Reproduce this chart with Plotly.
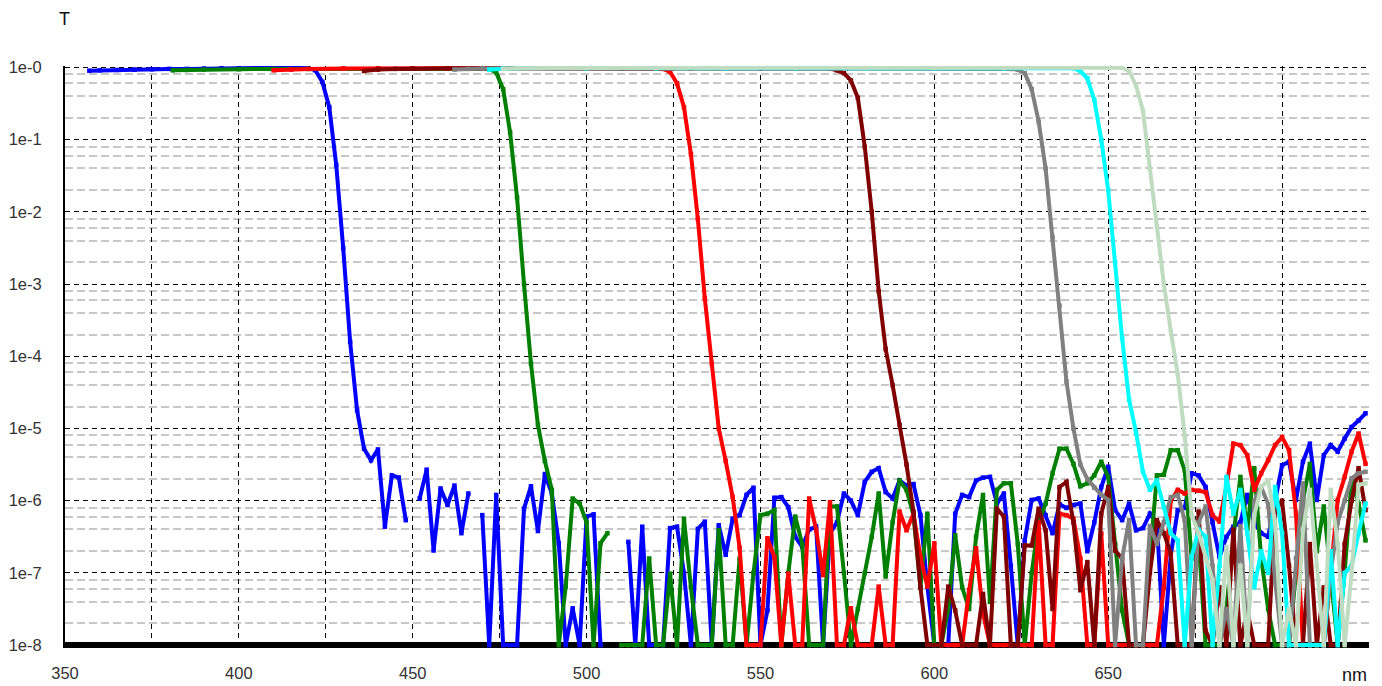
import plotly.graph_objects as go

# ---------------- data (wavelength in nm, transmission as log10(T)) ----------------
# flat (passband) parts, read every few nm
blue_flat_nm = [357, 360, 365, 370, 375, 380, 385, 390, 395, 400, 405, 410, 415, 420]
blue_flat_log = [-0.045, -0.04, -0.035, -0.03, -0.025, -0.02, -0.02, -0.015, -0.01, -0.005, -0.005, -0.005, -0.005, -0.01]
# edge + blocking part, every 2 nm from the start value to 724 (None = no value)
blue_edge_start = 422
blue_edge_log = [
    -0.04, -0.2, -0.55, -1.35, -2.5, -3.8, -4.75, -5.28, -5.44, -5.29,
    -6.36, -5.65, -5.68, -6.27, None, -5.97, -5.57, -6.69, -5.83, -6.06,
    -5.79, -6.45, -5.90, None, -6.20, -8, -5.92, -8, -8, -8,
    -6.11, -5.80, -6.42, -5.63, -5.90, -6.59, -8, -7.49, -8, -6.22,
    -6.19, -8, None, None, None, -6.57, -8, -6.36, -8, -8,
    -8, -6.38, -6.36, -7.0, -8, -6.39, -6.29, -8, -6.34, -6.75,
    -6.25, -6.2, -5.92, -5.82, -8, -7.52, -5.96, -5.95, -6.09, -6.5,
    -6.64, -6.4, -6.36, -8, -6.45, -6.3, -5.9, -6.0, -6.2, -5.74,
    -5.6, -5.55, -5.88, -5.97, -5.72, -5.79, -5.77, -6.2, -7.19, -8,
    -8, -8, -6.18, -5.92, -5.95, -5.72, -5.68, -5.67, -6.04, -5.9,
    -6.9, -8, -6.55, -5.99, -5.97, -6.2, -6.45, -6.05, -6.1, -6.06,
    -6.04, -6.7, -6.3, -5.81, -5.53, -6.13, -6.27, -6.04, -6.41, -6.38,
    -6.18, -6.3, -8, -6.75, -6.13, -6.1, -5.62, -5.65, -5.81, -6.3,
    -6.78, -6.5, -6.36, -6.3, -5.92, -6.3, -6.45, -6.5, -6.0, -5.51,
    -5.46, -5.99, -5.46, -5.21, -5.99, -5.37, -5.23, -5.32, -5.14, -4.98,
    -4.89, -4.79,
]

green_flat_nm = [381, 385, 390, 400, 410, 420, 430, 440, 450, 460, 470, 472]
green_flat_log = [-0.04, -0.035, -0.03, -0.025, -0.02, -0.02, -0.015, -0.015, -0.01, -0.01, -0.01, -0.02]
green_edge_start = 474
green_edge_log = [
    -0.07, -0.3, -0.9, -1.8, -3.0, -4.1, -4.95, -5.45, -5.85, -8,
    -7.19, -5.97, -6.04, -6.3, -8, -6.59, -6.45, None, -8, -8,
    -8, -8, -6.8, -8, -8, -7.01, -8, -6.25, -7.2, -8,
    -8, -8, -6.41, -8, -8, -6.8, -8, -7.0, -6.2, -6.18,
    -6.13, -8, -7.0, -6.22, -6.6, -8, -8, -8, -6.08, -6.08,
    -7.0, -8, -7.5, -7.0, -6.5, -5.9, -7.05, -6.3, -5.72, -5.85,
    -6.2, -7.2, -6.18, -8, -8, -7.5, -6.48, -7.2, -7.5, -6.5,
    -5.92, -7.4, -5.85, -5.76, -5.76, -6.6, -8, -7.0, -6.3, -6.04,
    -5.62, -5.28, -5.28, -5.49, -5.8, -5.76, -5.65, -5.46, -5.67, -6.6,
    -7.52, -8, -8, -8, -6.8, -5.65, -5.64, -5.3, -5.3, -5.58,
    -6.8, -6.55, -8, -8, -8, -7.5, -6.5, -5.67, -6.4, -5.55,
    -6.8, -7.5, -8, -8, -8, -7.0, -6.0, -5.49, -6.7, -6.08,
    -7.0, -8, -7.0, -5.72, -6.04, -6.55,
]

red_flat_nm = [410, 415, 420, 430, 440, 450, 460, 470, 480, 490, 500, 510, 520, 522]
red_flat_log = [-0.04, -0.03, -0.02, -0.015, -0.01, -0.01, -0.01, -0.01, -0.01, -0.01, -0.01, -0.01, -0.01, -0.02]
red_edge_start = 524
red_edge_log = [
    -0.06, -0.22, -0.55, -1.2, -2.1, -3.2, -4.1, -5.0, -5.45, -5.95,
    -6.65, -8, -8, -8, -6.52, -6.78, -8, -7.01, -8, -8,
    -5.97, -6.4, -7.03, -6.02, -8, -8, -7.49, -8, -8, -8,
    -7.19, -8, -8, -6.15, -6.41, -6.18, -6.78, -7.19, -6.59, -8,
    -8, -8, -8, -7.24, -6.66, -7.56, -8, -8, -8, -8,
    -8, -8, -8, -6.3, -8, -8, -6.18, -6.2, -6.25, -6.8,
    -8, -8, -6.45, -8, -8, -8, -8, -8, -8, -8,
    -8, -7.2, -6.0, -5.85, -5.9, -5.85, -5.86, -5.88, -6.2, -6.29,
    -5.8, -5.21, -5.23, -5.37, -5.85, -5.62, -5.44, -5.23, -5.12, -5.3,
    -6.18, -8, -8, -8, -8, -7.0, -5.99, -5.67, -5.32, -5.07,
    -5.49,
]

maroon_flat_nm = [436, 440, 445, 450, 460, 470, 480, 490, 500, 510, 520, 530, 540, 550, 560, 570]
maroon_flat_log = [-0.05, -0.03, -0.02, -0.015, -0.01, -0.01, -0.01, -0.01, -0.01, -0.01, -0.01, -0.01, -0.01, -0.01, -0.01, -0.015]
maroon_edge_start = 572
maroon_edge_log = [
    -0.04, -0.08, -0.18, -0.42, -1.1, -2.0, -3.1, -3.9, -4.4, -4.95,
    -5.5, -6.15, -7.2, -8, -8, -8, -7.19, -7.52, -8, -8,
    -8, -7.29, -8, -6.11, -6.22, -8, -8, -6.62, -6.62, -6.11,
    -6.41, -7.5, -5.81, -5.74, -6.3, -7.24, -6.85, -8, -6.18, -5.81,
    -6.69, -6.8, -8, -8, -8, -7.0, -6.27, -6.45, -6.73, -8,
    -8, -8, -6.15, -7.8, -8, -7.2, -8, -6.4, -8, -7.52,
    -8, -8, -8, -6.13, -6.0, -6.9, -8, -8, -6.6, -8,
    -7.2, -8, -8, -6.6, -6.0, -5.55, -6.13,
]

gray_flat_nm = [462, 466, 470, 480, 500, 520, 540, 560, 580, 600, 620, 622]
gray_flat_log = [-0.03, -0.02, -0.015, -0.01, -0.01, -0.01, -0.01, -0.01, -0.01, -0.01, -0.01, -0.02]
gray_edge_start = 624
gray_edge_log = [
    -0.03, -0.08, -0.3, -0.75, -1.4, -2.35, -3.3, -4.35, -5.0, -5.5,
    -5.7, -5.82, -5.92, -5.99, -8, -6.8, -6.27, -8, -8, -6.35,
    -6.6, -6.3, -5.95, -5.92, -6.27, -8, -6.3, -6.08, -6.9, -8,
    -7.5, -8, -6.35, -8, -6.0, -5.81, -6.05, -7.1, -8, -8,
    -6.8, -5.76, -8, -8, -8, -7.0, -6.3, -6.0, -5.69, -5.62, -5.6,
]

cyan_flat_nm = [472, 476, 480, 500, 520, 540, 560, 580, 600, 620, 640]
cyan_flat_log = [-0.03, -0.015, -0.01, -0.01, -0.01, -0.01, -0.01, -0.01, -0.01, -0.01, -0.01]
cyan_edge_start = 642
cyan_edge_log = [
    -0.05, -0.15, -0.45, -1.0, -1.7, -2.7, -3.75, -4.6, -5.05, -5.6,
    -5.85, -5.72, -6.09, -6.45, -6.55, -8, -6.78, -6.4, -6.5, -8,
    -6.9, -5.67, -6.18, -5.85, -6.45, -7.2, -6.7, -7.0, -5.81, -6.45,
    -8, -8, -8, -8, -8, -8, -6.7, -8, -7.0, -6.9,
    -6.45, -6.04,
]

sage_flat_nm = [476, 480, 490, 500, 520, 540, 560, 580, 600, 620, 640, 650, 654]
sage_flat_log = [-0.02, -0.01, -0.008, -0.005, -0.005, -0.005, -0.005, -0.005, -0.005, -0.005, -0.005, -0.005, -0.005]
sage_edge_start = 656
sage_edge_log = [
    -0.05, -0.25, -0.6, -1.4, -2.2, -3.0, -3.65, -4.25, -5.1, -6.2,
    -6.45, -6.8, -7.1, -8, -6.64, -8, -6.9, -8, -6.2, -5.81,
    -5.72, -6.3, -8, -7.5, -8, -6.4, -5.85, -6.9, -8, -5.85,
    -6.6, -8, -7.0, -5.78, -5.76,
]

x_tick_vals = [350, 375, 400, 425, 450, 475, 500, 525, 550, 575, 600, 625, 650, 675, 700, 725]
x_tick_text = ["350", "", "400", "", "450", "", "500", "", "550", "", "600", "", "650", "", "", ""]
y_tick_exps = [0, -1, -2, -3, -4, -5, -6, -7, -8]
y_tick_text = ["1e-0", "1e-1", "1e-2", "1e-3", "1e-4", "1e-5", "1e-6", "1e-7", "1e-8"]
minor_mults = [2, 4, 6, 8]

series = [
    ("blue", "#0000ff", blue_flat_nm, blue_flat_log, blue_edge_start, blue_edge_log),
    ("green", "#008000", green_flat_nm, green_flat_log, green_edge_start, green_edge_log),
    ("red", "#ff0000", red_flat_nm, red_flat_log, red_edge_start, red_edge_log),
    ("maroon", "#800000", maroon_flat_nm, maroon_flat_log, maroon_edge_start, maroon_edge_log),
    ("gray", "#808080", gray_flat_nm, gray_flat_log, gray_edge_start, gray_edge_log),
    ("cyan", "#00ffff", cyan_flat_nm, cyan_flat_log, cyan_edge_start, cyan_edge_log),
    ("sage", "#c0dcc0", sage_flat_nm, sage_flat_log, sage_edge_start, sage_edge_log),
]

fig = go.Figure()

# black blocking floor at 1e-8
fig.add_shape(type="line", xref="x", yref="y", x0=350, x1=725, y0=1e-8, y1=1e-8,
              line=dict(color="black", width=6), layer="below")

for name, color, fnm, flog, estart, elog in series:
    enm = [estart + 2 * i for i in range(len(elog))]
    xs = fnm + enm
    ys = [None if v is None else 10 ** v for v in (flog + elog)]
    fig.add_trace(go.Scatter(
        x=xs, y=ys, name=name, mode="lines+markers",
        line=dict(color=color, width=4),
        marker=dict(color=color, size=4.5, symbol="square"),
        connectgaps=False, showlegend=False,
    ))

minor_vals = [m * 10 ** e for e in range(-8, 0) for m in minor_mults]

fig.update_layout(
    width=1382, height=686,
    margin=dict(l=65, r=13, t=65.5, b=38.1),
    paper_bgcolor="white", plot_bgcolor="white",
    font=dict(family="Liberation Sans, Arial, sans-serif", size=16, color="#333333"),
    xaxis=dict(
        range=[350, 725], tickmode="array", tickvals=x_tick_vals, ticktext=x_tick_text,
        showgrid=True, gridcolor="#000000", griddash="5px,4px", gridwidth=1,
        zeroline=False, showline=False, ticks="", ticklabelstandoff=13,
        tickfont=dict(size=16.5, color="#333333"), automargin=False,
    ),
    yaxis=dict(
        type="log", range=[-8.04, 0.02], tickmode="array",
        tickvals=[10 ** e for e in y_tick_exps], ticktext=y_tick_text,
        showgrid=True, gridcolor="#000000", griddash="5px,4px", gridwidth=1,
        minor=dict(tickvals=minor_vals, showgrid=True, gridcolor="#c8c8c8",
                   griddash="8px,4px", gridwidth=1.5, ticks=""),
        zeroline=False, showline=True, linecolor="black", linewidth=2,
        ticks="", ticklabelstandoff=18, tickfont=dict(size=16.5, color="#333333"),
        automargin=False,
    ),
    annotations=[
        dict(text="T", xref="paper", yref="paper", x=0, y=1.0, xshift=-1, yshift=47,
             xanchor="center", yanchor="middle", showarrow=False,
             font=dict(size=18, color="#111111")),
        dict(text="nm", xref="paper", yref="paper", x=1.0, y=0, yshift=-27,
             xanchor="right", yanchor="middle", showarrow=False,
             font=dict(size=18, color="#111111")),
    ],
)

fig.write_html("out.html")
